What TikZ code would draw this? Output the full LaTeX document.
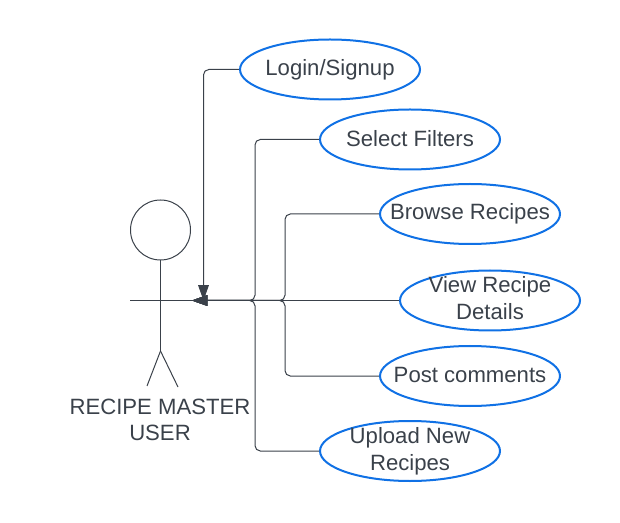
\documentclass[tikz,border=0pt]{standalone}
\usepackage{fontspec}
\setmainfont{Liberation Sans}
\usetikzlibrary{arrows.meta,shapes.geometric}
\definecolor{inkgrey}{HTML}{3A414A}
\definecolor{caseblue}{HTML}{1071E5}
\tikzset{
   line/.style  = {-, line width=0.75pt, draw=inkgrey, },
   arrow/.style = {-{Triangle[length=11.5pt,width=8pt]}, line width=0.75pt, draw=inkgrey, rounded corners=4pt, },
   usecase/.style = {
      ellipse,
      draw=caseblue,
      line width=1.5pt,
      minimum width=135pt,
      minimum height=45pt,
      inner sep=0pt,
   },
   caption/.style = {font=\fontsize{16.6pt}{20pt}\selectfont, text=inkgrey, align=center, inner sep=0pt, },
}

\begin{document}
\begin{tikzpicture}[x=0.75pt,y=-0.75pt]
      \useasboundingbox (0,0) rectangle (620,523);

      % actor
      \node[circle, draw=inkgrey, line width=0.75pt, minimum size=45pt, inner sep=0pt] (head) at (160.5,230){};
      \coordinate (hip)      at (160.5,351);
      \coordinate (footl)    at (147,386);
      \coordinate (footr)    at (178,387);
      \coordinate (armleft)  at (130,300.5);
      \coordinate (hand)     at (192,300.5);
      \coordinate (handtop)  at (203.5,300.5);
      \coordinate (busnear)  at (255,300.5);
      \coordinate (busfar)   at (285,300.5);
      \node[caption] (actor) at (160,420){RECIPE MASTER\\USER};

      % use cases
      \node[usecase, label={[caption]center:Login/Signup}]                    (login)  at (330,69.5){};
      \node[usecase, label={[caption,yshift=0.8pt]center:Select Filters}]     (filter) at (410,139.5){};
      \node[usecase, label={[caption]center:Browse Recipes}]                  (browse) at (470,214){};
      \node[usecase, label={[caption,yshift=1.8pt]center:View Recipe\\Details}] (view) at (490,300.5){};
      \node[usecase, label={[caption,yshift=0.8pt]center:Post comments}]      (post)   at (470,376){};
      \node[usecase, label={[caption]center:Upload New\\Recipes}]             (upload) at (410,451){};

      \draw[line]  (head.south) -- (hip);
      \draw[line]  (hip)        -- (footl);
      \draw[line]  (hip)        -- (footr);
      \draw[line]  (armleft)    -- (hand);

      \draw[arrow] (login.west)  -| (handtop);
      \draw[arrow] (filter.west) -| (busnear) -- (hand);
      \draw[arrow] (browse.west) -| (busfar)  -- (hand);
      \draw[arrow] (view.west)   -- (hand);
      \draw[arrow] (post.west)   -| (busfar)  -- (hand);
      \draw[arrow] (upload.west) -| (busnear) -- (hand);
\end{tikzpicture}
\end{document}
